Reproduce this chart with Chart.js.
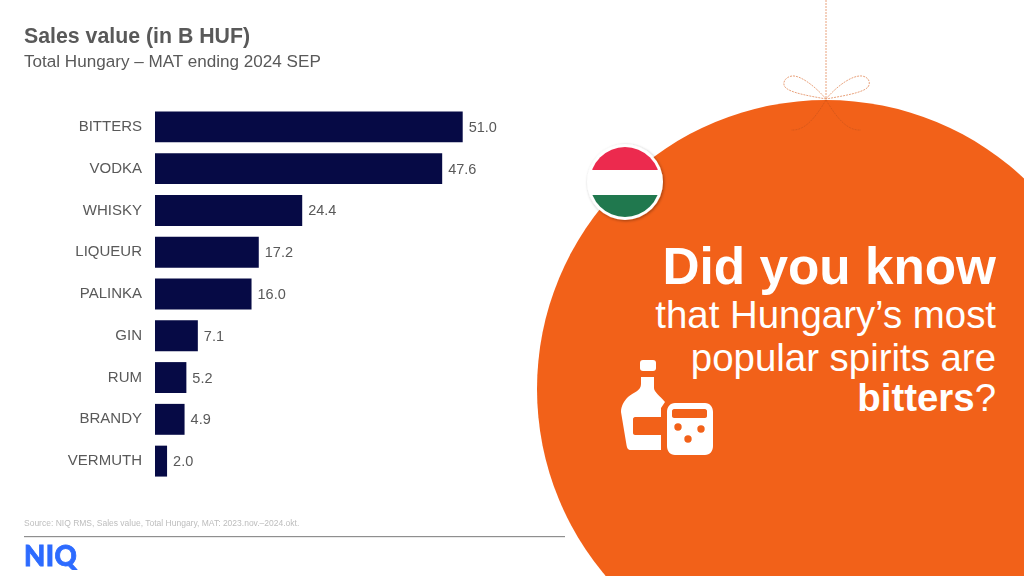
<!DOCTYPE html>
<html>
<head>
<meta charset="utf-8">
<title>Sales value</title>
<script src="https://cdn.jsdelivr.net/npm/chart.js@4"></script>
<style>
  html, body { margin: 0; padding: 0; background: #fff; }
  body { position: relative; width: 1024px; height: 576px; overflow: hidden; font-family: "Liberation Sans", Arial, sans-serif; }
  .abs { position: absolute; white-space: nowrap; }
  #deco { position: absolute; left: 0; top: 0; }
  #wrap { position: absolute; left: 0; top: 0; width: 565px; height: 576px; }
  .callout { right: 28px; text-align: right; color: #fff; }
</style>
</head>
<body>
<svg id="deco" width="1024" height="576" viewBox="0 0 1024 576">
  <defs>
    <filter id="soft" x="-20%" y="-20%" width="140%" height="140%">
      <feDropShadow dx="1" dy="1" stdDeviation="1.5" flood-color="#000" flood-opacity="0.35"/>
    </filter>
    <clipPath id="flagClip"><circle cx="625" cy="182" r="35"/></clipPath>
  </defs>
  <circle cx="826" cy="389" r="289" fill="#F26119"/>
  <g fill="none" stroke="#E9A27C" stroke-width="1" stroke-dasharray="2 1">
    <path d="M826 0V99"/>
    <path d="M826 99C815 86 800 75 792 76C785 77 782 83 785 87C790 93 810 96 826 99"/>
    <path d="M826 99C837 86 852 75 862 76C869 77 871 83 868 87C863 93 842 96 826 99"/>
  </g>
  <g fill="none" stroke="#D9591A" stroke-width="1" stroke-dasharray="2 1">
    <path d="M826 100C815 118 805 131 791 130"/>
    <path d="M826 100C837 118 847 131 861 130"/>
  </g>
  <circle cx="625" cy="182" r="38" fill="#fff" filter="url(#soft)"/>
  <g clip-path="url(#flagClip)">
    <rect x="585" y="145" width="80" height="25" fill="#EC2A4E"/>
    <rect x="585" y="195" width="80" height="25" fill="#20784E"/>
  </g>
  <g fill="#fff">
    <rect x="640" y="360" width="16" height="11" rx="3"/>
    <path d="M641 377H654V388C654 392 660 396 665 402L661 408V417H635C634 417 633 418 633 419V433C633 434 634 435 635 435H661V450H631C628 450 627 448 626.500 445L621 412C621 406 624 401 628 397C634 392 641 391 641 384Z"/>
    <path fill-rule="evenodd" d="M675 403H705C710 403 713 407 713 412V446C713 451 710 455 705 455H675C670 455 667 451 667 446V412C667 407 670 403 675 403ZM674 409C673 409 672 410 672 411V416C672 417 673 418 674 418H705C706 418 707 417 707 416V411C707 410 706 409 705 409ZM678 423.300A3.700 3.700 0 1 0 678 430.700A3.700 3.700 0 1 0 678 423.300ZM701 425.300A3.700 3.700 0 1 0 701 432.700A3.700 3.700 0 1 0 701 425.300ZM688 435.300A3.700 3.700 0 1 0 688 442.700A3.700 3.700 0 1 0 688 435.300Z"/>
  </g>
  <rect x="24" y="536" width="541" height="1.200" fill="#8f8f8f"/>
</svg>
<div id="wrap"><canvas id="chart" width="565" height="576"></canvas></div>
<div class="abs" style="left:24px;top:24px;font-size:21.300px;font-weight:bold;color:#595959;">Sales value (in B HUF)</div>
<div class="abs" style="left:24px;top:52px;font-size:17.100px;color:#595959;">Total Hungary – MAT ending 2024 SEP</div>
<div class="abs" style="left:24px;top:518px;font-size:8.500px;color:#bdbdbd;">Source: NIQ RMS, Sales value, Total Hungary, MAT: 2023.nov.–2024.okt.</div>
<div class="abs" style="left:24px;top:541px;font-size:27.500px;line-height:30px;font-weight:900;color:#2D6BFF;font-family:Lato,'Liberation Sans',sans-serif;-webkit-text-stroke:0.8px #2D6BFF;letter-spacing:0.5px;">NIQ</div>
<div class="abs callout" style="top:237px;font-size:51.300px;font-weight:bold;line-height:60px;">Did you know</div>
<div class="abs callout" style="top:293px;font-size:38.400px;line-height:44px;">that Hungary’s most</div>
<div class="abs callout" style="top:336px;font-size:38.400px;line-height:44px;">popular spirits are</div>
<div class="abs callout" style="top:376px;font-size:38.400px;line-height:44px;"><b>bitters</b>?</div>
<script>
const categories = ['BITTERS', 'VODKA', 'WHISKY', 'LIQUEUR', 'PALINKA', 'GIN', 'RUM', 'BRANDY', 'VERMUTH'];
const salesValues = [51.0, 47.6, 24.4, 17.2, 16.0, 7.1, 5.2, 4.9, 2.0];

// draws the number at the end of each bar
const barValueLabels = {
  id: 'barValueLabels',
  afterDatasetsDraw(chart) {
    const ctx = chart.ctx;
    const bars = chart.getDatasetMeta(0).data;
    ctx.save();
    ctx.font = '14.5px "Liberation Sans", Arial, sans-serif';
    ctx.fillStyle = '#595959';
    ctx.textAlign = 'left';
    ctx.textBaseline = 'middle';
    for (let i = 0; i < bars.length; i++) {
      ctx.fillText(salesValues[i].toFixed(1), bars[i].x + 6, bars[i].y + 1);
    }
    ctx.restore();
  }
};

new Chart(document.getElementById('chart'), {
  type: 'bar',
  data: {
    labels: categories,
    datasets: [{
      data: salesValues,
      backgroundColor: '#060A45',
      categoryPercentage: 0.74,
      barPercentage: 1
    }]
  },
  options: {
    indexAxis: 'y',
    responsive: false,
    animation: false,
    layout: { padding: { top: 106, bottom: 94, right: 48, left: 0 } },
    plugins: { legend: { display: false }, tooltip: { enabled: false } },
    scales: {
      x: { display: false, min: 0, max: 60 },
      y: {
        afterFit(scale) { scale.width = 155; },
        grid: { display: false },
        border: { display: false },
        ticks: {
          color: '#595959',
          padding: 5,
          font: { family: '"Liberation Sans", Arial, sans-serif', size: 15 }
        }
      }
    }
  },
  plugins: [barValueLabels]
});
</script>
</body>
</html>
